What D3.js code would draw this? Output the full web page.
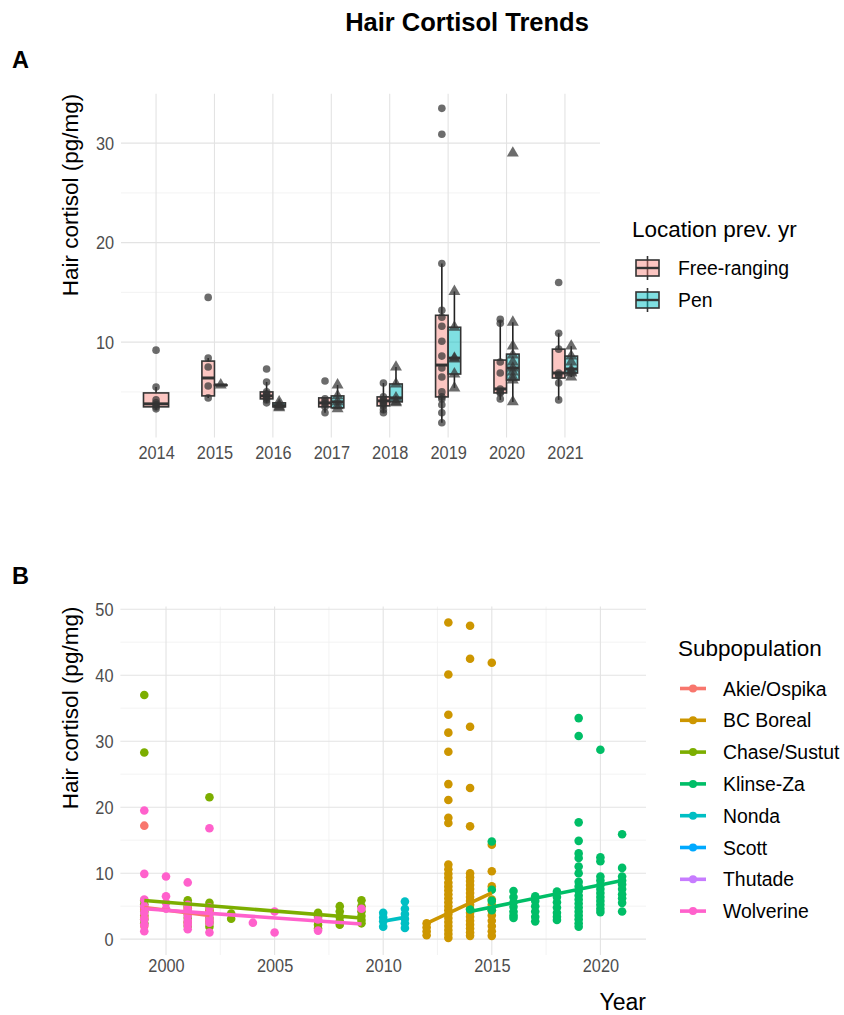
<!DOCTYPE html>
<html><head><meta charset="utf-8">
<script src="https://cdn.jsdelivr.net/npm/d3@7"></script>
<style>body{margin:0;background:#fff} text{font-family:"Liberation Sans", Arial, Helvetica, sans-serif}</style>
</head><body><svg id="c" width="844" height="1015"></svg>
<script>
// ---------------- Panel A data ----------------
const yearsA = ["2014","2015","2016","2017","2018","2019","2020","2021"];
const groupsA = ["Free-ranging","Pen"];
// box stats: [lower whisker, Q1, median, Q3, upper whisker]
const freeBoxStats = [
  [3.2,3.5,3.8,4.9,5.5],
  [4.4,4.6,6.4,8.1,8.4],
  [3.9,4.3,4.6,5.0,6.0],
  [2.9,3.5,3.9,4.4,4.4],
  [2.9,3.6,4.1,4.5,5.9],
  [1.9,4.5,7.7,12.7,17.9],
  [4.2,4.9,5.3,8.2,12.2],
  [4.2,6.4,6.9,9.3,10.9]
];
const penBoxStats = [
  null,
  [5.7,5.7,5.7,5.7,5.7],
  [3.4,3.5,3.6,3.9,4.0],
  [3.3,3.4,4.0,4.6,5.7],
  [3.9,4.0,4.4,5.8,7.5],
  [5.4,6.8,8.4,11.5,15.1],
  [4.0,6.2,7.4,8.8,12.0],
  [6.5,6.9,7.3,8.6,9.6]
];
const freePoints = [
  [9.2,5.5,4.2,3.9,3.7,3.5,3.3],
  [14.5,8.4,7.5,5.6,4.4],
  [7.3,6.0,5.0,4.8,4.6,4.4,4.2,3.9],
  [6.1,4.3,4.0,3.8,3.5,2.9],
  [5.9,4.5,4.2,4.0,3.8,3.6,3.2,2.9],
  [33.5,30.9,17.9,13.2,12.5,11.6,10.1,8.6,7.4,6.5,5.0,4.5,4.3,3.7,2.9,1.9],
  [12.3,11.9,8.0,6.9,5.3,5.0,4.9,4.3],
  [16.0,10.9,9.3,6.9,6.7,6.6,5.9,4.2]
];
const penPoints = [
  null,
  [5.7],
  [4.0,3.7,3.5,3.4],
  [5.7,4.6,4.0,3.6,3.3],
  [7.5,5.8,4.4,4.0,3.9],
  [15.1,11.5,8.4,8.3,6.8,5.4],
  [29.0,12.0,9.6,8.7,8.0,7.4,7.0,6.5,6.2,4.0],
  [9.6,8.6,8.0,7.2,7.0,6.9,6.5]
];
const yTicksA = [10,20,30];
const yMinorA = [5,15,25];

// ---------------- Panel B data ----------------
const subpops = ["Akie/Ospika","BC Boreal","Chase/Sustut","Klinse-Za","Nonda","Scott","Thutade","Wolverine"];
const subColors = ["#F8766D","#CD9600","#7CAE00","#00BE67","#00BFC4","#00A9FF","#C77CFF","#FF61CC"];
const chasePts = [[1999,37.0],[1999,28.3],[1999,5.9],[1999,5.3],[1999,4.8],[1999,4.2],[1999,3.6],[1999,3.0],[1999,2.4],
  [2001,5.9],[2001,5.4],[2001,4.9],[2001,4.3],[2001,3.8],[2001,3.2],[2001,2.6],[2001,2.0],
  [2002,21.5],[2002,5.5],[2002,5.0],[2002,4.4],[2002,3.9],[2002,3.2],[2002,2.5],[2002,1.9],
  [2003,3.9],[2003,3.1],
  [2007,4.0],[2007,3.4],[2007,2.8],[2007,2.2],[2007,1.6],
  [2008,5.0],[2008,4.2],[2008,3.4],[2008,2.7],[2008,2.2],
  [2009,5.9],[2009,5.0],[2009,4.2],[2009,3.5],[2009,2.9],[2009,2.4]];
const akiePts = [[1999,17.2],[1999,4.5],[1999,3.3],[1999,2.0],[2001,4.7],[2001,2.5],[2002,4.2],[2002,2.8]];
const wolverinePts = [[1999,19.5],[1999,9.9],[1999,6.0],[1999,5.0],[1999,4.0],[1999,3.0],[1999,2.2],[1999,1.2],
  [2000,9.5],[2000,6.5],[2000,5.5],[2000,4.6],
  [2001,8.6],[2001,5.2],[2001,4.3],[2001,3.5],[2001,2.8],[2001,2.2],[2001,1.5],
  [2002,16.8],[2002,4.8],[2002,3.8],[2002,3.1],[2002,2.5],[2002,1.0],
  [2004,2.5],[2005,4.2],[2005,1.0],[2007,3.0],[2007,1.3],[2009,4.6]];
const nondaPts = [[2010,4.0],[2010,3.3],[2010,2.7],[2010,1.9],
  [2011,5.7],[2011,4.6],[2011,3.8],[2011,3.1],[2011,2.4],[2011,1.7]];
const borealPts = [[2012,2.4],[2012,1.8],[2012,1.2],[2012,0.6],
  [2013,48.0],[2013,40.1],[2013,34.0],[2013,31.3],[2013,28.4],[2013,23.5],[2013,21.1],[2013,18.4],[2013,17.6],[2013,11.3],
  [2013,10.6],[2013,9.9],[2013,9.3],[2013,8.6],[2013,8.0],[2013,7.4],[2013,6.8],[2013,6.2],[2013,5.6],[2013,5.0],[2013,4.4],
  [2013,3.8],[2013,3.2],[2013,2.6],[2013,2.0],[2013,1.4],[2013,0.8],[2013,0.2],
  [2014,47.5],[2014,42.5],[2014,32.2],[2014,22.9],[2014,17.1],[2014,10.0],[2014,9.4],[2014,8.8],[2014,8.2],[2014,7.6],
  [2014,7.0],[2014,6.4],[2014,5.8],[2014,5.2],[2014,4.6],[2014,4.0],[2014,3.4],[2014,2.8],[2014,2.2],[2014,1.6],[2014,1.0],[2014,0.5],
  [2015,41.9],[2015,14.3],[2015,10.3],[2015,8.0],[2015,6.0],[2015,5.2],[2015,4.4],[2015,3.6],[2015,2.8],[2015,2.0],[2015,1.2],[2015,0.5]];
const klinsePts = [[2014,4.5],
  [2015,14.8],[2015,7.5],[2015,5.8],[2015,4.4],
  [2016,7.3],[2016,6.4],[2016,5.6],[2016,4.9],[2016,4.2],[2016,3.6],[2016,3.2],
  [2017,6.5],[2017,5.8],[2017,5.0],[2017,4.2],[2017,3.4],[2017,2.7],
  [2018,7.2],[2018,6.4],[2018,5.6],[2018,4.8],[2018,4.0],[2018,3.4],[2018,2.9],
  [2019,33.5],[2019,30.8],[2019,17.7],[2019,14.9],[2019,13.0],[2019,12.3],[2019,11.0],[2019,10.0],[2019,8.7],[2019,8.0],
  [2019,7.3],[2019,6.6],[2019,6.0],[2019,5.4],[2019,4.8],[2019,4.2],[2019,3.6],[2019,3.0],[2019,2.4],[2019,1.9],
  [2020,28.7],[2020,12.4],[2020,11.8],[2020,9.5],[2020,8.9],[2020,8.2],[2020,7.6],[2020,7.0],[2020,6.4],[2020,5.8],[2020,5.2],[2020,4.6],[2020,4.1],
  [2021,15.9],[2021,10.8],[2021,9.5],[2021,8.9],[2021,8.3],[2021,7.6],[2021,6.8],[2021,6.2],[2021,5.5],[2021,4.2]];
// linear trend endpoints: [subpopulation, year0, value0, year1, value1]
const trendLines = [
  ["Akie/Ospika",1999,4.8,2002,3.6],
  ["BC Boreal",2012,2.4,2015,7.0],
  ["Chase/Sustut",1999,5.85,2009,3.2],
  ["Klinse-Za",2014,4.2,2021,8.9],
  ["Nonda",2010,2.7,2011,3.3],
  ["Wolverine",1999,4.6,2009,2.3]
];
const xTicksB = [2000,2005,2010,2015,2020];
const xMinorB = [2002.5,2007.5,2012.5,2017.5];
const yTicksB = [0,10,20,30,40,50];
const yMinorB = [5,15,25,35,45];

// ---------------- drawing ----------------
const svg = d3.select("#c");
const tickCol = "#4D4D4D";
const majCol = "#E3E3E3", minCol = "#F0F0F0";
const colorOf = d3.scaleOrdinal().domain(subpops).range(subColors);
const tickSize = 19;
const tickSquash = "scale(0.86,1)";

svg.append("text").attr("x",467).attr("y",31).attr("text-anchor","middle")
  .attr("font-size",25.5).attr("font-weight","bold").text("Hair Cortisol Trends");
svg.append("text").attr("x",12).attr("y",68).attr("font-size",23.5).attr("font-weight","bold").text("A");
svg.append("text").attr("x",12).attr("y",584).attr("font-size",23.5).attr("font-weight","bold").text("B");

// ===== Panel A =====
const A = {l:121, r:600, t:93.7, b:437.4};
const xA = d3.scalePoint().domain(yearsA).range([A.l, A.r]).padding(0.6);
const yA = d3.scaleLinear().domain([0.43, 34.97]).range([A.b, A.t]);
const step = xA.step();
const gA = svg.append("g");
gA.selectAll(".mn").data(yMinorA).join("line").attr("x1",A.l).attr("x2",A.r)
  .attr("y1",d=>yA(d)).attr("y2",d=>yA(d)).attr("stroke",minCol).attr("stroke-width",0.8);
gA.selectAll(".mj").data(yTicksA).join("line").attr("x1",A.l).attr("x2",A.r)
  .attr("y1",d=>yA(d)).attr("y2",d=>yA(d)).attr("stroke",majCol).attr("stroke-width",1.1);
gA.selectAll(".vx").data(yearsA).join("line").attr("x1",d=>xA(d)).attr("x2",d=>xA(d))
  .attr("y1",A.t).attr("y2",A.b).attr("stroke",majCol).attr("stroke-width",1.1);

const axYA = gA.append("g").attr("transform",`translate(${A.l},0)`)
  .call(d3.axisLeft(yA).tickValues(yTicksA).tickSize(0).tickPadding(8));
const axXA = gA.append("g").attr("transform",`translate(0,${A.b})`)
  .call(d3.axisBottom(xA).tickSize(0).tickPadding(8));
[axYA,axXA].forEach(a=>{a.select(".domain").remove();
  a.selectAll("text").attr("font-size",tickSize).attr("fill",tickCol).attr("font-family",null)
    .attr("transform",tickSquash);});

gA.append("text").attr("transform",`translate(78,${A.t}) rotate(-90)`)
  .attr("text-anchor","end").attr("font-size",22.5).text("Hair cortisol (pg/mg)");

const fills = ["rgba(248,118,109,0.42)","rgba(0,191,196,0.5)"];
function drawBox(g, cx, w, s, fill){
  g.append("line").attr("x1",cx).attr("x2",cx).attr("y1",yA(s[4])).attr("y2",yA(s[3]))
    .attr("stroke","#222").attr("stroke-width",1.6);
  g.append("line").attr("x1",cx).attr("x2",cx).attr("y1",yA(s[1])).attr("y2",yA(s[0]))
    .attr("stroke","#222").attr("stroke-width",1.6);
  g.append("rect").attr("x",cx-w/2).attr("width",w).attr("y",yA(s[3]))
    .attr("height",Math.max(0.5,yA(s[1])-yA(s[3]))).attr("fill",fill)
    .attr("stroke","#333").attr("stroke-width",1.6);
  g.append("line").attr("x1",cx-w/2).attr("x2",cx+w/2).attr("y1",yA(s[2])).attr("y2",yA(s[2]))
    .attr("stroke","#333").attr("stroke-width",3);
}
const boxG = gA.append("g"), ptG = gA.append("g");
const tri = d3.symbol().type(d3.symbolTriangle).size(62);
yearsA.forEach((yr,i)=>{
  const both = freeBoxStats[i] && penBoxStats[i];
  const full = 0.43*step, half = full/2;
  const cF = both ? xA(yr)-half/2 : xA(yr);
  const cP = both ? xA(yr)+half/2 : xA(yr);
  if(freeBoxStats[i]) drawBox(boxG, cF, both?half:full, freeBoxStats[i], fills[0]);
  if(penBoxStats[i]) drawBox(boxG, cP, both?half:full, penBoxStats[i], fills[1]);
  if(freePoints[i]) ptG.selectAll(null).data(freePoints[i]).join("circle")
    .attr("cx",cF).attr("cy",d=>yA(d)).attr("r",3.8).attr("fill","#333").attr("fill-opacity",0.72);
  if(penPoints[i]) ptG.selectAll(null).data(penPoints[i]).join("path")
    .attr("d",tri).attr("transform",d=>`translate(${cP},${yA(d)})`).attr("fill","#333").attr("fill-opacity",0.72);
});

// legend A
const lA = svg.append("g");
lA.append("text").attr("x",632).attr("y",237).attr("font-size",22.5).text("Location prev. yr");
groupsA.forEach((gname,i)=>{
  const cy = 268 + i*32, cx = 647.5;
  lA.append("line").attr("x1",cx).attr("x2",cx).attr("y1",cy-12).attr("y2",cy+12).attr("stroke","#333").attr("stroke-width",1.6);
  lA.append("rect").attr("x",636).attr("width",23).attr("y",cy-8).attr("height",16)
    .attr("fill",fills[i]).attr("stroke","#333").attr("stroke-width",1.6);
  lA.append("line").attr("x1",636).attr("x2",659).attr("y1",cy).attr("y2",cy).attr("stroke","#333").attr("stroke-width",2.4);
  lA.append("text").attr("x",678).attr("y",cy+7).attr("font-size",19.4).text(gname);
});

// ===== Panel B =====
const B = {l:120.4, r:646, t:606.6, b:955};
const xB = d3.scaleLinear().domain([1997.9, 2022.1]).range([B.l, B.r]);
const yB = d3.scaleLinear().domain([-2.4, 50.4]).range([B.b, B.t]);
const gB = svg.append("g");
gB.selectAll(".mn").data(yMinorB).join("line").attr("x1",B.l).attr("x2",B.r)
  .attr("y1",d=>yB(d)).attr("y2",d=>yB(d)).attr("stroke",minCol).attr("stroke-width",0.8);
gB.selectAll(".mnx").data(xMinorB).join("line").attr("x1",d=>xB(d)).attr("x2",d=>xB(d))
  .attr("y1",B.t).attr("y2",B.b).attr("stroke",minCol).attr("stroke-width",0.8);
gB.selectAll(".mj").data(yTicksB).join("line").attr("x1",B.l).attr("x2",B.r)
  .attr("y1",d=>yB(d)).attr("y2",d=>yB(d)).attr("stroke",majCol).attr("stroke-width",1.1);
gB.selectAll(".mjx").data(xTicksB).join("line").attr("x1",d=>xB(d)).attr("x2",d=>xB(d))
  .attr("y1",B.t).attr("y2",B.b).attr("stroke",majCol).attr("stroke-width",1.1);

const axYB = gB.append("g").attr("transform",`translate(${B.l},0)`)
  .call(d3.axisLeft(yB).tickValues(yTicksB).tickSize(0).tickPadding(8));
const axXB = gB.append("g").attr("transform",`translate(0,${B.b})`)
  .call(d3.axisBottom(xB).tickValues(xTicksB).tickFormat(d3.format("d")).tickSize(0).tickPadding(3));
[axYB,axXB].forEach(a=>{a.select(".domain").remove();
  a.selectAll("text").attr("font-size",tickSize).attr("fill",tickCol).attr("font-family",null)
    .attr("transform",tickSquash);});
gB.append("text").attr("transform",`translate(78,${B.t}) rotate(-90)`)
  .attr("text-anchor","end").attr("font-size",22.5).text("Hair cortisol (pg/mg)");
gB.append("text").attr("x",B.r).attr("y",1010).attr("text-anchor","end").attr("font-size",23).text("Year");

const ptSets = [["Chase/Sustut",chasePts],["Akie/Ospika",akiePts],["Wolverine",wolverinePts],
  ["Nonda",nondaPts],["BC Boreal",borealPts],["Klinse-Za",klinsePts]];
ptSets.forEach(([name,pts])=>{
  gB.append("g").selectAll("circle").data(pts).join("circle")
    .attr("cx",d=>xB(d[0])).attr("cy",d=>yB(d[1])).attr("r",4.3).attr("fill",colorOf(name));
});
gB.append("g").selectAll("line").data(trendLines).join("line")
  .attr("x1",d=>xB(d[1])).attr("y1",d=>yB(d[2])).attr("x2",d=>xB(d[3])).attr("y2",d=>yB(d[4]))
  .attr("stroke",d=>colorOf(d[0])).attr("stroke-width",3.6).attr("stroke-linecap","butt");

// legend B
const lB = svg.append("g");
lB.append("text").attr("x",678).attr("y",656).attr("font-size",22.5).text("Subpopulation");
subpops.forEach((s,i)=>{
  const cy = 688.5 + i*31.8;
  lB.append("line").attr("x1",680).attr("x2",706).attr("y1",cy).attr("y2",cy)
    .attr("stroke",subColors[i]).attr("stroke-width",3.6);
  lB.append("circle").attr("cx",693).attr("cy",cy).attr("r",4).attr("fill",subColors[i]);
  lB.append("text").attr("x",723).attr("y",cy+7).attr("font-size",19.4).text(s);
});
</script></body></html>
